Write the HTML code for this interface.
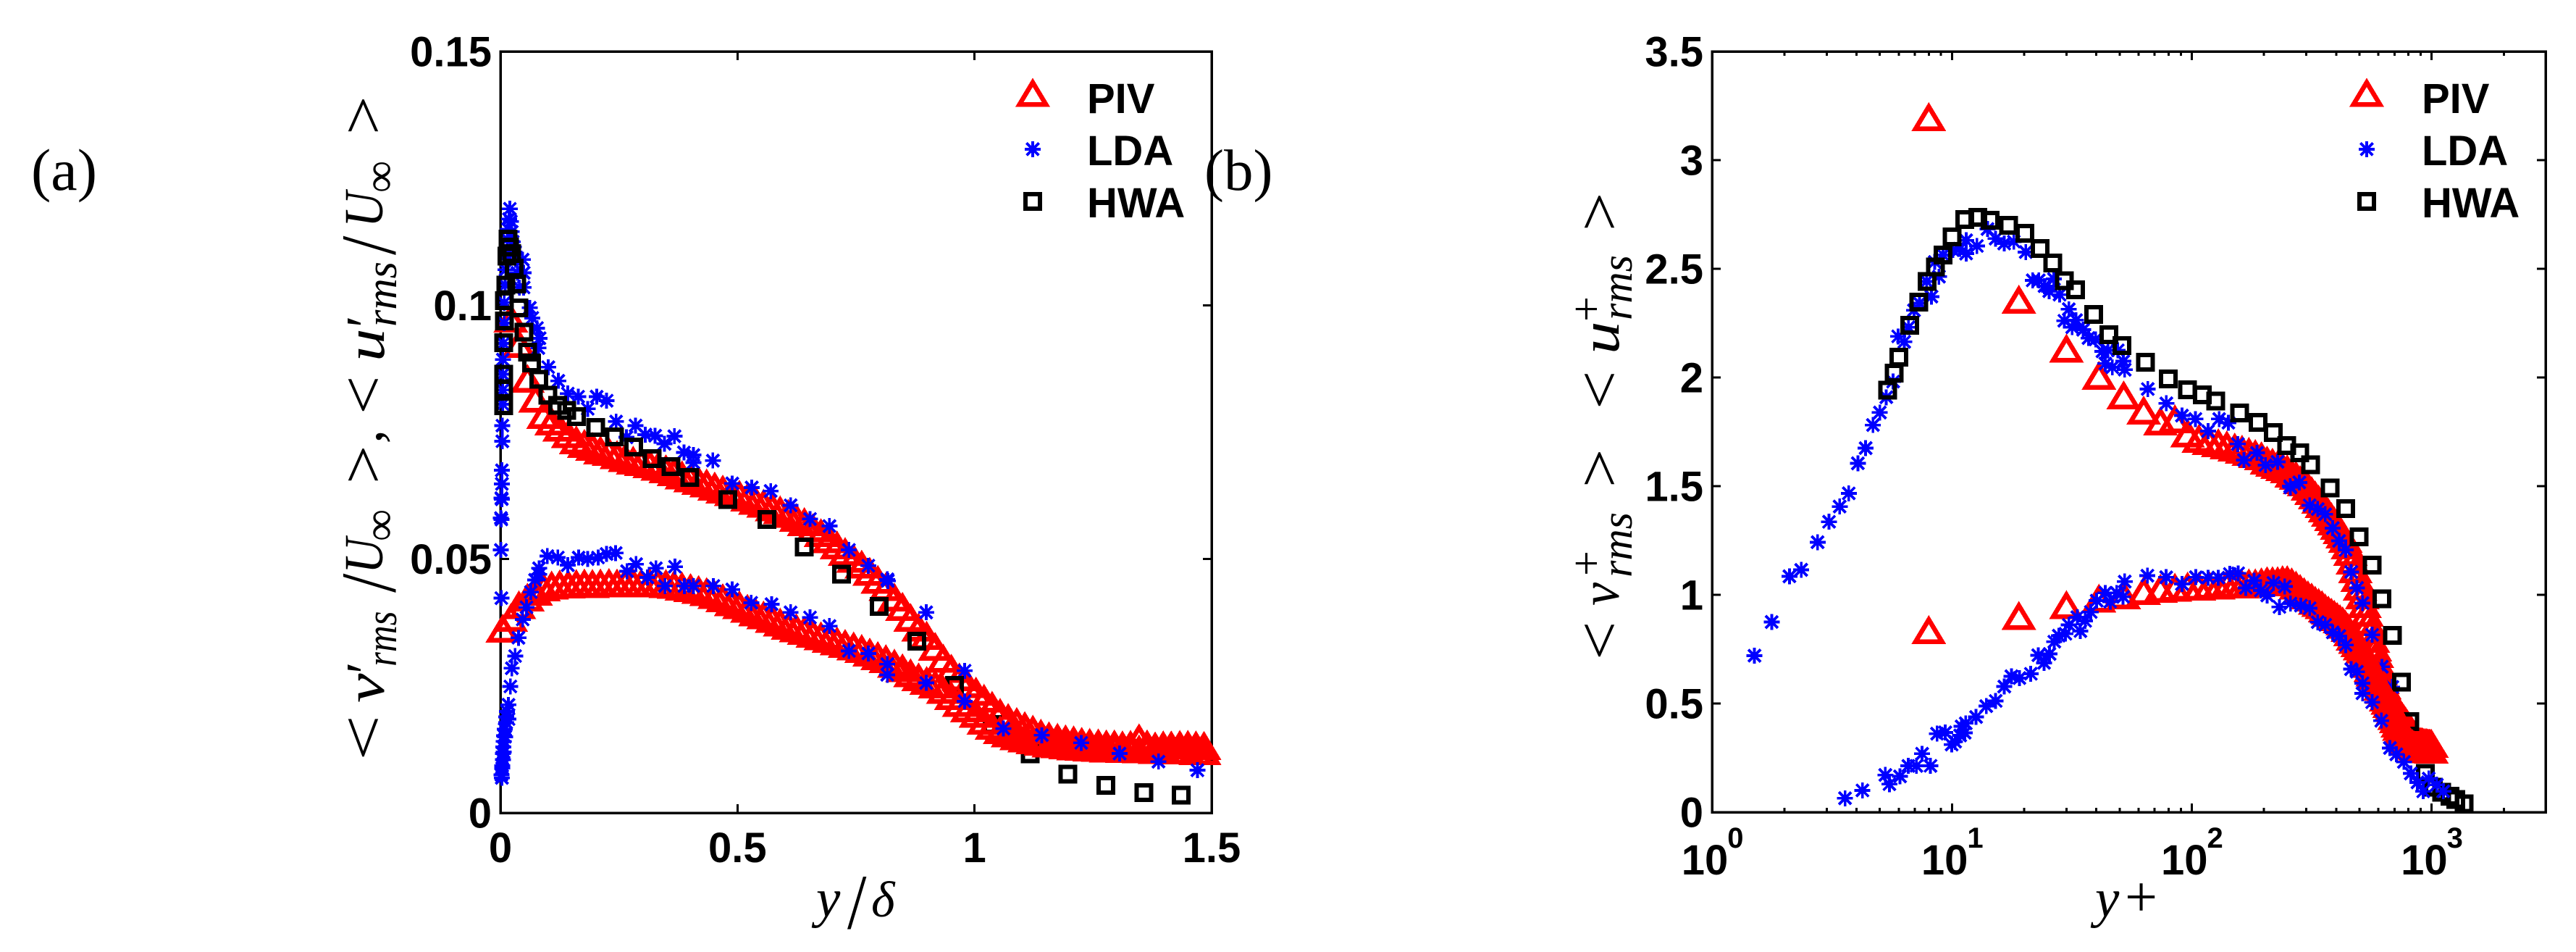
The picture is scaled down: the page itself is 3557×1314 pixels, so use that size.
<!DOCTYPE html>
<html lang="en">
<head>
<meta charset="utf-8">
<title>Turbulence intensity profiles</title>
<style>
html,body{margin:0;padding:0;background:#fff;width:3557px;height:1314px;overflow:hidden}
svg{display:block}
.tick-label{font-family:"Liberation Sans",sans-serif;font-weight:bold;font-size:58px;fill:#000}
.legend-label{font-family:"Liberation Sans",sans-serif;font-weight:bold;font-size:58px;fill:#000}
.serif{font-family:"Liberation Serif",serif;fill:#000}
.it{font-family:"Liberation Serif",serif;font-style:italic;fill:#000}
</style>
</head>
<body>
<svg id="chart" xmlns="http://www.w3.org/2000/svg" width="3557" height="1314" viewBox="0 0 3557 1314">
<rect x="0" y="0" width="3557" height="1314" fill="#fff"/>
<g id="panelA"></g>
<g id="panelB"></g>

<text class="serif" x="43" y="262" font-size="82">(a)</text>
<text class="serif" x="1663" y="262" font-size="81">(b)</text>

<g>
<text class="serif" font-size="86" transform="translate(530,1050) rotate(-90) scale(1.3,1)">&lt;</text>
<text class="it" font-size="76" transform="translate(530,970) rotate(-90) scale(1.2,1)">v</text>
<text class="serif" font-size="76" transform="translate(530,930) rotate(-90)">′</text>
<text class="it" font-size="60" transform="translate(547,920) rotate(-90) scale(.85,1)">rms</text>
<text class="serif" font-size="108" transform="translate(545.5,818) rotate(-90) scale(.88,1)">/</text>
<text class="it" font-size="76" transform="translate(528,792) rotate(-90) scale(.9,1)">U</text>
<text class="serif" font-size="62" transform="translate(545,747) rotate(-90)">∞</text>
<text class="serif" font-size="86" transform="translate(530,668) rotate(-90) scale(1.1,1)">&gt;</text>
<text class="it" font-size="76" transform="translate(527,612) rotate(-90)">,</text>
<text class="serif" font-size="86" transform="translate(530,572) rotate(-90) scale(1.1,1)">&lt;</text>
<text class="it" font-size="76" transform="translate(530,499) rotate(-90) scale(1.2,1)">u</text>
<text class="serif" font-size="76" transform="translate(530,452) rotate(-90)">′</text>
<text class="it" font-size="60" transform="translate(547,451) rotate(-90)">rms</text>
<text class="serif" font-size="108" transform="translate(545.5,352) rotate(-90) scale(.88,1)">/</text>
<text class="it" font-size="76" transform="translate(528,314) rotate(-90) scale(.9,1)">U</text>
<text class="serif" font-size="62" transform="translate(545,266) rotate(-90)">∞</text>
<text class="serif" font-size="86" transform="translate(530,186) rotate(-90) scale(1.1,1)">&gt;</text>
</g>
<g>
<text class="it" x="1127" y="1265" font-size="75">y</text>
<text class="serif" font-size="108" transform="translate(1170,1281.5) scale(.88,1)">/</text>
<text class="it" x="1203" y="1265" font-size="70">δ</text>
</g>

<g>
<text class="serif" font-size="86" transform="translate(2237,911) rotate(-90) scale(1.1,1)">&lt;</text>
<text class="it" font-size="76" transform="translate(2235,836) rotate(-90) scale(.95,1)">v</text>
<text class="serif" font-size="62" transform="translate(2211,795) rotate(-90)">+</text>
<text class="it" font-size="60" transform="translate(2253,797) rotate(-90)">rms</text>
<text class="serif" font-size="86" transform="translate(2237,673) rotate(-90) scale(1.1,1)">&gt;</text>
<text class="serif" font-size="86" transform="translate(2237,565) rotate(-90) scale(1.1,1)">&lt;</text>
<text class="it" font-size="76" transform="translate(2235,489) rotate(-90) scale(1.2,1)">u</text>
<text class="serif" font-size="62" transform="translate(2211,444) rotate(-90)">+</text>
<text class="it" font-size="60" transform="translate(2253,442) rotate(-90)">rms</text>
<text class="serif" font-size="86" transform="translate(2237,319) rotate(-90) scale(1.1,1)">&gt;</text>
</g>
<g>
<text class="it" x="2893" y="1265" font-size="75">y</text>
<text class="serif" x="2934" y="1265" font-size="80">+</text>
</g>

<g id="legendA">
<text class="legend-label" x="1501" y="156">PIV</text>
<text class="legend-label" x="1501" y="228">LDA</text>
<text class="legend-label" x="1501" y="300">HWA</text>
</g>
<g id="legendB">
<text class="legend-label" x="3344" y="156">PIV</text>
<text class="legend-label" x="3344" y="228">LDA</text>
<text class="legend-label" x="3344" y="300">HWA</text>
</g>
</svg>

<script>
/* ---------- panel (a) data: y/delta vs rms / U_inf ---------- */
const xTicksA = [0, 0.5, 1, 1.5];
const xTickLabelsA = ["0", "0.5", "1", "1.5"];
const yTicksA = [0, 0.05, 0.1, 0.15];
const yTickLabelsA = ["0", "0.05", "0.1", "0.15"];

const pivXA = [.005,.022,.039,.057,.074,.091,.108,.125,.143,.160,.177,.194,.211,.229,.246,.263,.280,.297,.315,.332,.349,.366,.383,.401,.418,.435,.452,.469,.487,.504,.521,.538,.555,.573,.590,.607,.624,.641,.659,.676,.693,.710,.727,.745,.762,.779,.796,.813,.831,.848,.865,.882,.899,.917,.934,.951,.968,.985,1.003,1.020,1.037,1.054,1.071,1.089,1.106,1.123,1.140,1.157,1.175,1.192,1.209,1.226,1.243,1.261,1.278,1.295,1.312,1.329,1.347,1.364,1.381,1.398,1.415,1.433,1.450,1.467,1.484];
const pivUA = [null,.0975,.0925,.0856,.0817,.0785,.0772,.0760,.0747,.0735,.0728,.0722,.0715,.0712,.0706,.0700,.0695,.0692,.0688,.0683,.0678,.0672,.0666,.0660,.0655,.0650,.0644,.0638,.0633,.0628,.0622,.0616,.0610,.0603,.0597,.0590,.0582,.0574,.0562,.0552,.0540,.0528,.0515,.0502,.0490,.0476,.0460,.0446,.0425,.0407,.0385,.0366,.0350,.0328,.0305,.0285,.0268,.0255,.0240,.0226,.0212,.0198,.0188,.0180,.0172,.0165,.0157,.0152,.0149,.0146,.0144,.0141,.0139,.0138,.0136,.0136,.0134,.0135,.0148,.0136,.0132,.0134,.0134,.0135,.0135,.0134,.0133];
const pivVA = [.0364,.0385,.0410,.0425,.0437,.0445,.0449,.0451,.0451,.0452,.0453,.0452,.0453,.0454,.0453,.0454,.0454,.0453,.0454,.0454,.0452,.0450,.0447,.0444,.0440,.0436,.0430,.0424,.0416,.0410,.0403,.0396,.0390,.0383,.0376,.0370,.0365,.0360,.0354,.0349,.0344,.0339,.0334,.0329,.0324,.0317,.0310,.0304,.0295,.0286,.0276,.0268,.0261,.0254,.0243,.0231,.0218,.0207,.0196,.0183,.0173,.0164,.0158,.0152,.0148,.0144,.0141,.0138,.0136,.0134,.0132,.0131,.0130,.0129,.0128,.0128,.0127,.0127,.0126,.0126,.0125,.0125,.0124,.0124,.0124,.0123,.0123];

const ldaUXA = [.002,.001,.002,.001,.002,.003,.003,.003,.004,.004,.005,.005,.005,.005,.006,.008,.008,.010,.011,.012,.014,.016,.018,.020,.022,.024,.026,.028,.030,.032,.036,.040,.047,.049,.049,.062,.067,.077,.0825,.080,.101,.122,.142,.164,.184,.203,.224,.244,.266,.285,.3055,.326,.346,.367,.387,.407,.407,.448,.489,.530,.570,.612,.653,.694,.735,.776,.816,.817,.898,.979];
const ldaUYA = [.0423,.0518,.0578,.0581,.0620,.0618,.0648,.0675,.0732,.0763,.0805,.0833,.0864,.0893,.0925,.0965,.1005,.1040,.1070,.1100,.1130,.1150,.1170,.1190,.1165,.1145,.1125,.1115,.1105,.1090,.1064,.1035,.1090,.1064,.1035,.0995,.0975,.0955,.0935,.0916,.0878,.0851,.0826,.0820,.0796,.0820,.0812,.0771,.0740,.0763,.0745,.0743,.0727,.0742,.0710,.0705,.0690,.0694,.0649,.0641,.0634,.0606,.0579,.0565,.0518,.0487,.0460,.0457,.0395,.0280];

const ldaVXA = [.002,.003,.0035,.004,.005,.005,.006,.007,.007,.008,.009,.010,.012,.012,.014,.017,.017,.021,.024,.031,.038,.047,.055,.064,.073,.0815,.0815,.099,.121,.142,.165,.184,.206,.224,.243,.267,.286,.310,.328,.347,.368,.388,.407,.449,.489,.529,.572,.612,.653,.694,.735,.776,.816,.816,.898,.979,1.061,1.142,1.225,1.306,1.388,1.470];
const ldaVYA = [.0075,.0069,.0088,.0093,.0105,.0117,.0130,.0120,.0141,.0152,.0165,.0150,.0178,.0189,.0200,.0213,.0185,.0249,.0285,.0309,.0345,.0381,.0405,.0435,.0459,.0482,.0470,.0506,.0503,.0488,.0503,.0500,.0503,.0510,.0512,.0476,.0490,.0464,.0482,.0447,.0485,.0447,.0447,.0447,.0440,.0414,.0411,.0395,.0385,.0368,.0319,.0314,.0293,.0272,.0256,.0220,.0166,.0153,.0138,.0117,.0101,.0084];

const hwaXA = [.0071,.0071,.0071,.0071,.0087,.0087,.0112,.0138,.0163,.0190,.024,.029,.034,.0392,.0494,.057,.0657,.081,.1003,.1206,.140,.1604,.2011,.2408,.281,.3203,.360,.3997,.4796,.562,.641,.7194,.7988,.878,.958,1.037,1.117,1.197,1.277,1.357,1.436];
const hwaYA = [.0802,.0835,.0864,.0926,.0969,.1009,.1040,.1097,.1130,.1115,.1102,.1073,.1042,.0995,.0947,.0908,.0886,.0854,.0823,.0803,.0793,.0781,.0759,.0741,.0721,.0698,.0682,.0661,.0617,.0578,.0524,.0470,.0407,.0338,.0251,.0174,.0116,.0076,.0054,.0040,.0035];

/* ---------- panel (b) data: y+ vs rms+ ---------- */
const xTicksB = [1, 10, 100, 1000];
const xTickExpB = ["0", "1", "2", "3"];
const xMinorB = [2,3,4,5,6,7,8,9,20,30,40,50,60,70,80,90,200,300,400,500,600,700,800,900,2000,3000];
const yTicksB = [0, .5, 1, 1.5, 2, 2.5, 3, 3.5];
const yTickLabelsB = ["0", "0.5", "1", "1.5", "2", "2.5", "3", "3.5"];

const pivXB = [8,19,30,41,52,63,74,85,96,107,118,129,140,151,162,173,184,195,206,217,228,239,250,261,272,283,294,305,316,327,338,349,360,371,382,393,404,415,426,437,448,459,470,481,492,503,514,525,536,547,558,569,580,591,602,613,624,635,646,657,668,679,690,701,712,723,734,745,756,767,778,789,800,811,822,833,844,855,866,877,888,899,910,921,932,943,954,965,976,987,998];
const pivUB = [3.20,2.36,2.135,2.01,1.92,1.85,1.80,1.81,1.745,1.72,1.71,1.70,1.69,1.68,1.67,1.66,1.65,1.64,1.62,1.61,1.60,1.59,1.58,1.56,1.55,1.53,1.52,1.50,1.48,1.46,1.44,1.42,1.40,1.38,1.36,1.34,1.32,1.30,1.28,1.26,1.23,1.20,1.16,1.12,1.08,1.04,1.00,.96,.92,.88,.84,.80,.76,.73,.69,.65,.61,.585,.56,.55,.53,.52,.50,.49,.48,.47,.46,.45,.44,.43,.42,.41,.40,.39,.38,.37,.36,.35,.335,.33,.325,.325,.325,.322,.32,.32,.32,.318,.318,.317,.317];
const pivVB = [.84,.905,.955,.985,1.00,1.02,1.03,1.035,1.04,1.04,1.045,1.045,1.05,1.05,1.05,1.055,1.055,1.06,1.065,1.065,1.065,1.07,1.07,1.06,1.045,1.03,1.015,1.00,.99,.975,.965,.955,.94,.93,.92,.91,.90,.89,.88,.865,.85,.83,.81,.795,.78,.765,.75,.73,.705,.685,.665,.645,.63,.615,.60,.58,.565,.55,.53,.515,.50,.485,.47,.445,.43,.41,.395,.38,.365,.355,.345,.335,.33,.325,.32,.315,.31,.305,.30,.30,.30,.298,.298,.296,.295,.295,.294,.293,.292,.291,.29];

const ldaUXB = [1.5,1.77,2.1,2.35,2.75,3.07,3.40,3.71,4.05,4.36,4.68,5.0,5.32,5.68,6.32,5.96,6.58,6.94,7.32,8.21,7.83,8.82,8.47,9.18,10.08,10.77,11.45,11.45,12.7,14.06,15.2,16.5,18.1,20.3,21.7,23,24.3,25.4,26.6,28.1,30.7,29.4,32.9,31.7,35.2,37.1,39.7,42.4,44.7,49.1,51.8,43.6,46.6,52.5,65.5,78.3,91,103.5,117,130,142,155.6,165,187,203,228,257,258,281,310,335,360,387,412,438,462,488,515,565,620,685];
const ldaUYB = [.72,.875,1.085,1.115,1.242,1.336,1.406,1.467,1.605,1.675,1.781,1.839,1.909,1.981,2.164,2.189,2.231,2.309,2.342,2.372,2.442,2.464,2.531,2.564,2.586,2.592,2.57,2.631,2.605,2.683,2.639,2.616,2.625,2.577,2.447,2.447,2.42,2.397,2.453,2.381,2.314,2.261,2.264,2.231,2.22,2.181,2.175,2.12,2.125,2.125,2.075,2.064,2.047,2.036,1.947,1.881,1.825,1.809,1.753,1.809,1.792,1.694,1.62,1.653,1.597,1.612,1.5,1.494,1.517,1.412,1.395,1.371,1.307,1.248,1.207,1.105,1.032,.962,.816,.669,.576];

const ldaVXB = [3.58,4.23,5.27,5.48,6.07,6.57,7.1,7.5,8.13,8.66,9.37,9.97,10.3,10.8,10.96,11.3,11.4,12.6,13.9,15.2,16.5,17.7,19.1,21.3,24.2,22.9,25.5,26.7,27.9,29.7,30.7,34.3,35.9,33.3,37.9,40.1,43.6,45.7,48.6,51.7,52.5,65.3,78.2,91,104,117,129,144,156,168,182,194,206,219,244,232,258,285,310,335,360,387,412,438,462,488,515,515,565,617,670,713,766,820,873,923,973,1051,1119];
const ldaVYB = [.064,.10,.171,.129,.165,.213,.213,.269,.213,.361,.367,.311,.324,.353,.395,.365,.409,.438,.488,.512,.578,.625,.617,.637,.687,.722,.728,.784,.812,.821,.862,.833,.88,.897,.921,.973,1.009,.968,1.009,.991,1.061,1.088,1.081,1.05,1.081,1.079,1.079,1.096,1.099,1.032,1.065,1.02,.997,1.055,1.038,.944,.96,.95,.938,.874,.862,.827,.81,.769,.658,.646,.593,.547,.506,.421,.295,.266,.231,.178,.137,.096,.155,.126,.096];

const hwaXB = [5.39,5.73,6.0,6.67,7.26,7.87,8.52,9.18,10.0,11.3,12.8,14.4,17.2,20.1,23.3,26.3,29.4,32.7,39,45.1,51.1,64.1,79.9,96,110.6,126,158,189,219,249,282,313,378,438,498,565,621,687,749,811,942,1018,1102,1194,1260,1365];
const hwaYB = [1.942,2.02,2.094,2.24,2.347,2.442,2.508,2.564,2.647,2.727,2.736,2.723,2.70,2.664,2.594,2.527,2.445,2.403,2.29,2.197,2.147,2.07,1.994,1.944,1.92,1.892,1.836,1.793,1.746,1.687,1.654,1.598,1.492,1.396,1.267,1.136,.982,.814,.598,.416,.179,.115,.092,.073,.059,.039];

/* ---------- axis functions ---------- */
const SVGNS = "http://www.w3.org/2000/svg";
const boxA = {l: 691, r: 1673, t: 71, b: 1122};
const boxB = {l: 2364, r: 3515, t: 71, b: 1121};
const xMaxA = 1.5, yMaxA = 0.15, yMaxB = 3.5, decadePx = 331.1, decade0 = 2364.3;
function xA(v) { return boxA.l + v / xMaxA * (boxA.r - boxA.l); }
function yA(v) { return boxA.b - v / yMaxA * (boxA.b - boxA.t); }
function xB(v) { return decade0 + Math.log10(v) * decadePx; }
function yB(v) { return boxB.b - v / yMaxB * (boxB.b - boxB.t); }

function mk(tag, parent) {
  const el = document.createElementNS(SVGNS, tag);
  parent.appendChild(el);
  return el;
}

/* ---------- markers ---------- */
function triangle(parent, cx, cy) {
  const el = mk("path", parent);
  
  
  el.setAttribute("d", `M${cx},${cy - 13.7}L${cx + 18.3},${cy + 16.75}L${cx - 18.3},${cy + 16.75}Z`);
  el.setAttribute("fill", "none");
  el.setAttribute("stroke", "#ff0000");
  el.setAttribute("stroke-width", "6.5");
  el.setAttribute("shape-rendering", "crispEdges");
}
function star(parent, cx, cy) {
  const el = mk("path", parent);
  
  
  const a = 11, d = 8.5;
  el.setAttribute("d", `M${cx},${cy - a}V${cy + a}M${cx - a},${cy}H${cx + a}M${cx - d},${cy - d}L${cx + d},${cy + d}M${cx - d},${cy + d}L${cx + d},${cy - d}`);
  el.setAttribute("fill", "none");
  el.setAttribute("stroke", "#0000ff");
  el.setAttribute("stroke-width", "3.8");
  el.setAttribute("shape-rendering", "crispEdges");
}
function square(parent, cx, cy) {
  const el = mk("rect", parent);
  
  
  el.setAttribute("x", cx - 10);
  el.setAttribute("y", cy - 10);
  el.setAttribute("width", 20);
  el.setAttribute("height", 20);
  el.setAttribute("fill", "none");
  el.setAttribute("stroke", "#000");
  el.setAttribute("stroke-width", "6");
  el.setAttribute("shape-rendering", "crispEdges");
}
function plot(parent, name, xs, ys, fx, fy, marker) {
  const g = mk("g", parent);
  
  
  xs.forEach((x, i) => {
    if (ys[i] === null || ys[i] === undefined) return;
    marker(g, fx(x), fy(ys[i]));
  });
}

/* ---------- axes ---------- */
function line(parent, x1, y1, x2, y2, w) {
  const el = mk("line", parent);
  
  
  el.setAttribute("x1", x1);
  el.setAttribute("y1", y1);
  el.setAttribute("x2", x2);
  el.setAttribute("y2", y2);
  el.setAttribute("stroke", "#000");
  el.setAttribute("stroke-width", w || 3);
  el.setAttribute("shape-rendering", "crispEdges");
}
function frame(parent, box) {
  const el = mk("rect", parent);
  
  
  el.setAttribute("x", box.l);
  el.setAttribute("y", box.t);
  el.setAttribute("width", box.r - box.l);
  el.setAttribute("height", box.b - box.t);
  el.setAttribute("fill", "none");
  el.setAttribute("stroke", "#000");
  el.setAttribute("stroke-width", "3.5");
  el.setAttribute("shape-rendering", "crispEdges");
}
function label(parent, x, y, str, anchor, cls, size) {
  const el = mk("text", parent);
  
  
  el.setAttribute("class", cls || "tick-label");
  el.setAttribute("x", x);
  el.setAttribute("y", y);
  el.setAttribute("text-anchor", anchor);
  if (size) el.setAttribute("font-size", size);
  if (size) el.style.fontSize = size + "px";
  el.textContent = str;
}

const panelA = document.getElementById("panelA");
const panelB = document.getElementById("panelB");
const tickLen = 12, minorLen = 6;

/* panel a axes */
frame(panelA, boxA);
xTicksA.forEach((v, i) => {
  line(panelA, xA(v), boxA.b, xA(v), boxA.b - tickLen);
  line(panelA, xA(v), boxA.t, xA(v), boxA.t + tickLen);
  label(panelA, xA(v), 1190, xTickLabelsA[i], "middle");
});
yTicksA.forEach((v, i) => {
  line(panelA, boxA.l, yA(v), boxA.l + tickLen, yA(v));
  line(panelA, boxA.r, yA(v), boxA.r - tickLen, yA(v));
  label(panelA, 679, yA(v) + 20.5, yTickLabelsA[i], "end");
});

/* panel a series */
plot(panelA, "piv-u-series", pivXA, pivUA, xA, yA, triangle);
plot(panelA, "lda-u-series", ldaUXA, ldaUYA, xA, yA, star);
plot(panelA, "hwa-u-series", hwaXA, hwaYA, xA, yA, square);
plot(panelA, "piv-v-series", pivXA, pivVA, xA, yA, triangle);
plot(panelA, "lda-v-series", ldaVXA, ldaVYA, xA, yA, star);

/* panel b axes */
frame(panelB, boxB);
xTicksB.forEach((v, i) => {
  line(panelB, xB(v), boxB.b, xB(v), boxB.b - tickLen);
  line(panelB, xB(v), boxB.t, xB(v), boxB.t + tickLen);
  label(panelB, xB(v) - 42.5, 1207, "10", "start");
  label(panelB, xB(v) + 21, 1170, xTickExpB[i], "start", "tick-label", 40);
});
xMinorB.forEach(v => {
  line(panelB, xB(v), boxB.b, xB(v), boxB.b - minorLen);
  line(panelB, xB(v), boxB.t, xB(v), boxB.t + minorLen);
});
yTicksB.forEach((v, i) => {
  line(panelB, boxB.l, yB(v), boxB.l + tickLen, yB(v));
  line(panelB, boxB.r, yB(v), boxB.r - tickLen, yB(v));
  label(panelB, 2352, yB(v) + 20.5, yTickLabelsB[i], "end");
});

/* panel b series */
plot(panelB, "piv-u-series", pivXB, pivUB, xB, yB, triangle);
plot(panelB, "lda-u-series", ldaUXB, ldaUYB, xB, yB, star);
plot(panelB, "hwa-u-series", hwaXB, hwaYB, xB, yB, square);
plot(panelB, "piv-v-series", pivXB, pivVB, xB, yB, triangle);
plot(panelB, "lda-v-series", ldaVXB, ldaVYB, xB, yB, star);

/* legends */
const legendA = document.getElementById("legendA");
triangle(legendA, 1426, 127.5);
star(legendA, 1426, 206);
square(legendA, 1426, 278);
const legendB = document.getElementById("legendB");
triangle(legendB, 3268, 127.5);
star(legendB, 3268, 206);
square(legendB, 3268, 278);
</script>
</body>
</html>
